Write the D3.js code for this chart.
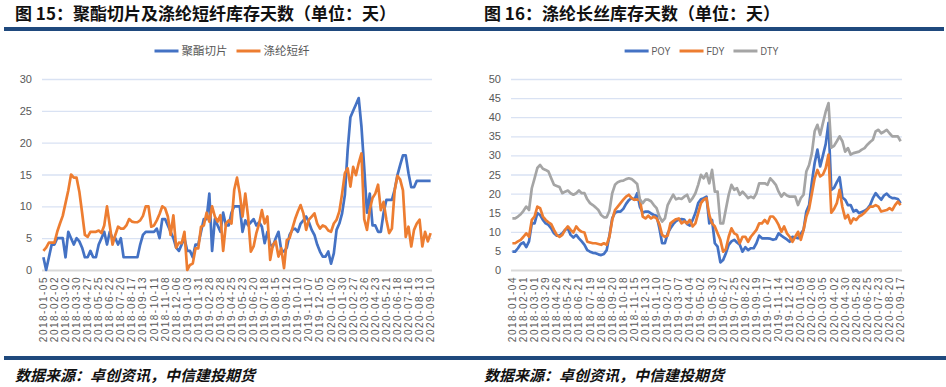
<!DOCTYPE html>
<html>
<head>
<meta charset="utf-8">
<script src="https://cdn.jsdelivr.net/npm/d3@7"></script>
<style>
  body { margin: 0; background: #fff; }
  svg { display: block; }
</style>
</head>
<body>
<div id="my_dataviz"></div>
<script>

// weekly data, a tick label every 4th week
var chipDays = [2, 0, 2, 4, 4, 5, 5, 5, 2, 6,
  5, 4, 5, 4.5, 3.5, 2, 2, 3, 2, 2,
  4, 5, 6, 4, 6, 5, 5, 4, 5, 2,
  2, 2, 2, 2, 2, 4, 5.5, 6, 6, 6,
  6, 6.5, 5, 8, 8, 7, 6, 5, 3.5, 3,
  4, 5, 3, 3, 2, 4, 4, 6, 8, 8,
  12, 3, 8, 7, 6, 9, 7, 7, 9, 10,
  10, 10, 6, 7.8, 7, 7.5, 8, 7, 7.5, 6.8,
  4.2, 6, 4, 3.7, 5, 6, 3.1, 2.9, 3.5, 5.5,
  6.3, 6.5, 6, 7.3, 7.8, 8.4, 7.5, 6.3, 5.5, 4,
  2.9, 2.1, 2.1, 2.9, 1, 2.6, 6.3, 7.3, 8.9, 11.8,
  18.8, 24, 25, 26, 27, 22.5, 16, 9, 12, 7,
  7, 6, 6, 9, 11, 11, 11, 12.6, 14.9, 16.5,
  18, 18, 15.2, 13, 13, 14, 14, 14, 14, 14,
  14];

var staple = [3, 3.5, 4.3, 4.3, 4.3, 6, 7.3, 8.5, 10.5, 12.5,
  15, 14.5, 14.5, 12.3, 9, 5.5, 5.2, 6, 6, 6,
  6.2, 5.8, 7, 10, 7, 4, 5.5, 6.8, 6.5, 6.5,
  7, 8, 7.6, 7.5, 7.5, 7.8, 8.5, 10, 10, 6.8,
  7, 7.8, 8.8, 10, 9.7, 8.4, 5.5, 8.6, 3.5, 4.3,
  4.2, 6, 0, 0.8, 1, 3.4, 3.4, 6.8, 7, 9,
  7.6, 10, 8.4, 7.6, 8.6, 3, 7.3, 7.8, 7.3, 12.6,
  14.5, 12, 8.4, 12, 8.4, 2.9, 3.7, 5.8, 7.3, 9.4,
  7.3, 8.4, 1.6, 4, 4.5, 2.1, 3.4, 0.3, 4.7, 5,
  6.5, 8, 9.2, 10.2, 8.9, 6.3, 7.9, 8.4, 8.9, 7.3,
  6.5, 7, 6.8, 6.2, 6, 7.3, 7.9, 9.2, 12, 15.2,
  16, 13.1, 16.2, 14.9, 16.8, 18.3, 8, 6.3, 9.5, 11.3,
  12, 13.4, 9.4, 10.7, 7.9, 5.8, 6.5, 12.5, 14.8, 14.2,
  12.5, 5.2, 6.8, 3.7, 6.3, 7.3, 7.9, 3.7, 6, 4.5,
  5.8];

var leftTicks = ["2018-01-05","2018-02-02","2018-03-02","2018-03-30","2018-04-27","2018-05-25",
  "2018-06-22","2018-07-20","2018-08-17","2018-09-13","2018-10-11","2018-11-08","2018-12-06",
  "2019-01-03","2019-01-31","2019-02-28","2019-03-28","2019-04-25","2019-05-23","2019-06-20",
  "2019-07-18","2019-08-15","2019-09-12","2019-10-10","2019-11-07","2019-12-05","2020-01-02",
  "2020-01-30","2020-02-27","2020-03-26","2020-04-23","2020-05-21","2020-06-18","2020-07-16",
  "2020-08-13","2020-09-10"];

var poy = [4.8, 4.8, 5.7, 6.8, 7.2, 6, 7.5, 12.2, 12.2, 14.9,
  14.4, 13.1, 12.2, 11.8, 10.9, 9.6, 9, 9, 9.6, 10.5,
  10.9, 9.2, 8.5, 9.2, 8.3, 7.5, 6.6, 5.2, 4.8, 4.5,
  4.4, 4.1, 3.9, 4.2, 5.2, 9, 13.5, 15, 15.3, 15.3,
  16, 17.3, 18.3, 18.8, 18.4, 20.1, 16.5, 15, 15.3, 15.3,
  14.8, 14.4, 14.2, 11, 7, 7, 9.6, 10.9, 12, 12.8,
  13.2, 13.3, 13.2, 12, 11.6, 13.1, 14.9, 17.5, 18.5, 18.8,
  19.2, 12.2, 13.1, 7, 6.1, 2, 2.6, 4.4, 6.6, 7.5,
  7.9, 7.2, 6.6, 4.8, 6, 5.2, 5.7, 5.7, 7, 9,
  8.3, 8.3, 8.3, 8.2, 7.9, 8.1, 9.6, 9, 8.5, 8,
  7.4, 8.7, 8.5, 8.3, 9.5, 10.5, 15.3, 17, 23, 28,
  31.5, 27.1, 30, 33, 38.5, 21, 21.5, 23, 24.3, 19,
  18.4, 17, 17, 15.3, 15.7, 14.9, 15.2, 15.5, 16, 17,
  18.8, 20.1, 19.2, 18.4, 19.5, 20, 19.2, 18.8, 18.8, 18.6,
  17.5];

var fdy = [7, 7, 7.5, 7.9, 8.7, 9.6, 8.7, 13.1, 14, 16.6,
  16.2, 14, 13.1, 12.5, 12, 10.5, 9.2, 8.7, 9.2, 10.5,
  11.4, 10.5, 9.8, 11.4, 10.5, 10, 9.8, 7.4, 7.2, 7,
  7, 6.8, 6.6, 7, 6.6, 8.7, 13.1, 15.7, 16.6, 17.5,
  18.4, 19.2, 19.7, 18.8, 18.4, 18.4, 18.4, 14, 13.5, 14.2,
  13.5, 14, 13.5, 12, 9.2, 8.7, 9, 12.2, 12.8, 13.3,
  13.5, 12.2, 12.7, 12.2, 13.1, 11.4, 12.2, 14.9, 17.5, 18.4,
  18.8, 14.4, 12.2, 11.4, 9.6, 7.9, 4.8, 5.5, 8.7, 10.9,
  9.6, 9.2, 7, 8.7, 8.7, 7.4, 8.7, 9.6, 10.5, 12.2,
  12.2, 13.1, 12.2, 14, 14, 13.1, 11.8, 10, 11.4, 9.6,
  8.7, 7.4, 8.7, 10, 7.9, 10.5, 14, 16, 20, 24,
  26.2, 24.5, 25, 26.7, 30.2, 15, 16, 17.5, 21, 16.5,
  13.5, 14.4, 12.2, 13.5, 13.1, 14, 14.4, 15, 15.8, 16.6,
  16.6, 17, 16.6, 15.3, 15.5, 15.7, 16.2, 15.7, 17, 17.9,
  17];

var dty = [13.5, 13.5, 14, 14.6, 15.5, 16.6, 15.7, 21.4, 24, 26.7,
  27.5, 26.5, 26.2, 25.8, 24, 22.3, 22, 21.7, 20.1, 20.5,
  20.8, 20.1, 19.7, 20.1, 20.8, 20.1, 20.1, 18.5, 17.5, 17,
  16.4, 15.7, 14.4, 13.8, 13.8, 15.5, 20.1, 22.3, 23, 23.3,
  23.4, 23.8, 24, 23.8, 23.2, 22.5, 18.4, 17.5, 18.4, 18.4,
  18, 17, 16.2, 14, 12.7, 13.5, 17, 18.4, 19.7, 18.5,
  18.8, 18.6, 19.2, 19.7, 17.9, 18.8, 20.1, 22.3, 24.9, 24,
  25.3, 22.7, 26.2, 20.5, 20.5, 12.2, 12.2, 16, 19.7, 22.3,
  21, 21.4, 19.7, 20.5, 19.7, 18.8, 19.2, 18.8, 20.1, 22.7,
  22.7, 22.7, 22.3, 24, 23.2, 22.3, 20.5, 19.2, 20.1, 19.5,
  19.2, 19.2, 19.2, 17, 18.8, 19.7, 25.8, 27.5, 30.6, 36.3,
  38, 35.4, 38.5, 41.5, 43.7, 32, 32.5, 33.7, 35, 33.7,
  31, 31.9, 30.2, 30.6, 30.8, 31, 31.5, 31.9, 32.8, 33.5,
  34.1, 36.3, 36.7, 35.8, 36.2, 36.7, 35.8, 35, 35, 35,
  33.7];

var rightTicks = ["2018-01-04","2018-02-01","2018-03-01","2018-03-29","2018-04-26","2018-05-24",
  "2018-06-21","2018-07-19","2018-08-16","2018-09-20","2018-10-18","2018-11-15","2018-12-13",
  "2019-01-10","2019-02-07","2019-03-07","2019-04-04","2019-05-02","2019-05-30","2019-06-27",
  "2019-07-25","2019-08-22","2019-09-19","2019-10-17","2019-11-14","2019-12-12","2020-01-09",
  "2020-02-06","2020-03-05","2020-04-02","2020-04-30","2020-05-28","2020-06-25","2020-07-23",
  "2020-08-20","2020-09-17"];

var leftTitle = "图 15：聚酯切片及涤纶短纤库存天数（单位：天）";
var rightTitle = "图 16：涤纶长丝库存天数（单位：天）";
var sourceText = "数据来源：卓创资讯，中信建投期货";

var W = 946, H = 387;
var cjk = "'Noto Sans CJK SC', 'Noto Sans', sans-serif";
var latin = "'Liberation Sans', Arial, sans-serif";
var tickGrey = "#595959";

var svg = d3.select("#my_dataviz")
  .append("svg")
  .attr("width", W)
  .attr("height", H);

// the dark blue rules top and bottom run the whole width
svg.append("rect").attr("x", 4).attr("y", 27).attr("width", W - 6).attr("height", 4).attr("fill", "#1f497d");
svg.append("rect").attr("x", 4).attr("y", 356).attr("width", W - 4).attr("height", 4).attr("fill", "#1f497d");

function drawChart(opt) {

  var g = svg.append("g");

  g.append("text")
    .attr("x", opt.left - 27)
    .attr("y", 20)
    .attr("font-family", cjk)
    .attr("font-weight", "bold")
    .attr("font-size", "17px")
    .attr("fill", "#111")
    .text(opt.title);

  g.append("text")
    .attr("x", opt.left - 27)
    .attr("y", 381)
    .attr("font-family", cjk)
    .attr("font-weight", "bold")
    .attr("font-style", "italic")
    .attr("font-size", "15px")
    .attr("fill", "#111")
    .text(sourceText);

  var n = opt.series[0].values.length;

  var x = d3.scaleBand()
    .domain(d3.range(n))
    .range([opt.left, opt.right]);

  var y = d3.scaleLinear()
    .domain([0, opt.ymax])
    .range([270, 79]);

  // gridlines + y labels
  var yAxis = g.append("g")
    .attr("transform", "translate(" + opt.left + ",0)")
    .call(d3.axisLeft(y)
      .tickValues(d3.range(0, opt.ymax + 1, 5))
      .tickSize(-(opt.right - opt.left))
      .tickPadding(10));
  yAxis.select(".domain").remove();
  yAxis.selectAll("line")
    .attr("stroke", "#d9e2f3")
    .attr("stroke-width", 1.3)
    .filter(function(d) { return d === 0; })
    .attr("stroke", "#d9d9d9")
    .attr("stroke-width", 2);
  yAxis.selectAll("text")
    .attr("font-family", latin)
    .attr("font-size", "11px")
    .attr("fill", tickGrey);

  // category axis, label every 4th week
  var tickIdx = d3.range(0, n, 4);
  var xAxis = g.append("g")
    .attr("transform", "translate(0,270)")
    .call(d3.axisBottom(x)
      .tickValues(tickIdx)
      .tickSize(0)
      .tickFormat(function(d, i) { return opt.ticks[i]; }));
  xAxis.select(".domain").remove();
  xAxis.selectAll("text")
    .attr("font-family", latin)
    .attr("font-size", "10px")
    .attr("letter-spacing", "1.5px")
    .attr("fill", tickGrey)
    .attr("text-anchor", "end")
    .attr("transform", "rotate(-90)")
    .attr("x", -6)
    .attr("y", 0)
    .attr("dy", ".35em");

  var line = d3.line()
    .x(function(d, i) { return x(i) + x.bandwidth() / 2; })
    .y(function(d) { return y(d); });

  g.selectAll(".series")
    .data(opt.series)
    .enter().append("path")
    .attr("class", "series")
    .attr("fill", "none")
    .attr("stroke", function(d) { return d.color; })
    .attr("stroke-width", 2.7)
    .attr("stroke-linejoin", "round")
    .attr("d", function(d) { return line(d.values); });

  // legend, centred over the plot
  var leg = g.append("g");
  var items = leg.selectAll("g")
    .data(opt.series)
    .enter().append("g");
  items.append("line")
    .attr("x1", 0).attr("x2", 24)
    .attr("stroke", function(d) { return d.color; })
    .attr("stroke-width", 3);
  // latin names are squeezed a bit, the original uses a narrow face
  items.append("text")
    .attr("transform", function(d) {
      return /[\u4e00-\u9fff]/.test(d.name) ? "translate(27,0)" : "translate(27,0) scale(0.78,1)";
    })
    .attr("dy", ".35em")
    .attr("font-family", function(d) { return /[\u4e00-\u9fff]/.test(d.name) ? cjk : latin; })
    .attr("font-size", "11.5px")
    .attr("fill", tickGrey)
    .text(function(d) { return d.name; });

  var pos = 0;
  items.each(function(d) {
    var k = /[\u4e00-\u9fff]/.test(d.name) ? 1 : 0.78;
    var w = 27 + k * this.querySelector("text").getComputedTextLength();
    d3.select(this).attr("transform", "translate(" + pos + ",0)");
    pos += w + 9;
  });
  var total = pos - 9;
  leg.attr("transform", "translate(" + ((opt.left + opt.right) / 2 - 5 - total / 2) + ",51)");
}

drawChart({
  title: leftTitle,
  left: 42, right: 432, ymax: 30,
  ticks: leftTicks,
  series: [
    {name: "聚酯切片", values: chipDays, color: "#4472c4"},
    {name: "涤纶短纤", values: staple, color: "#ed7d31"}
  ]
});

drawChart({
  title: rightTitle,
  left: 511, right: 902, ymax: 50,
  ticks: rightTicks,
  series: [
    {name: "POY", values: poy, color: "#4472c4"},
    {name: "FDY", values: fdy, color: "#ed7d31"},
    {name: "DTY", values: dty, color: "#a5a5a5"}
  ]
});

</script>
</body>
</html>
